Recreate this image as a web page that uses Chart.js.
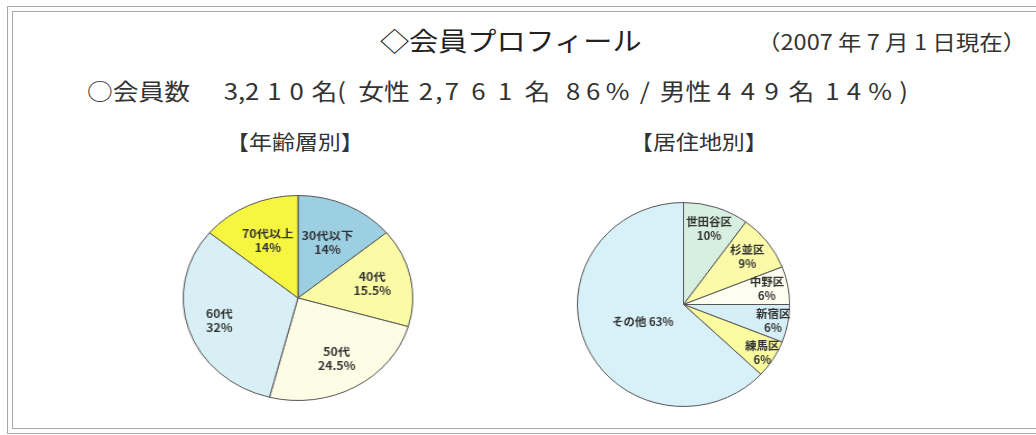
<!DOCTYPE html>
<html lang="ja">
  <head>
    <meta charset="UTF-8" />
    <title>会員プロフィール</title>
    <script src="https://cdn.jsdelivr.net/npm/chart.js@4.4.0/dist/chart.umd.min.js"></script>
    <style>
      html, body { margin: 0; padding: 0; background: #fff; overflow: hidden; }
      body { width: 1036px; height: 435px; position: relative;
             font-family: "Noto Sans CJK JP", sans-serif; color: #222; }
      .frame { position: absolute; border: 1px solid #a8a8a8; }
      /* the source is stretched a little horizontally, so the text is too */
      .txt { position: absolute; white-space: nowrap; line-height: 1;
             transform: scaleX(1.12); transform-origin: 0 0; }
      .pie { position: absolute; }
    </style>
  </head>
  <body>
    <div class="frame" style="left:7px; top:6px; width:1200px; height:426px;"></div>
    <div class="frame" style="left:12px; top:11px; width:1200px; height:416px;"></div>

    <div class="txt" style="left:380px; top:27px; font-size:26px;">◇会員プロフィール</div>
    <div class="txt" style="left:757px; top:31px; font-size:21px; color:#333;">（2007 年 7 月 1 日現在）</div>
    <div class="txt" style="left:87px; top:79px; font-size:23px; color:#333;">○会員数<span style="margin-left:30px">3,</span><span style="letter-spacing:7px">210</span>名<span style="letter-spacing:11px">(</span>女性<span style="margin-left:8px; letter-spacing:2px">2,</span><span style="letter-spacing:11px">761</span>名<span style="margin-left:14px; letter-spacing:5px">86</span><span style="letter-spacing:9px">%/</span>男性<span style="margin-left:5px; letter-spacing:8.5px">449</span>名<span style="margin-left:10px; letter-spacing:6.4px">14%)</span></div>
    <div class="txt" style="left:226px; top:131px; font-size:20.5px; color:#333;">【年齢層別】</div>
    <div class="txt" style="left:630px; top:131px; font-size:20.5px; color:#333;">【居住地別】</div>

    <div class="pie" style="left:195px; top:195px; width:206px; height:206px; transform:scaleX(1.12);">
      <canvas id="ageChart"></canvas>
    </div>
    <div class="pie" style="left:581px; top:202px; width:205px; height:205px; transform:scaleX(1.04);">
      <canvas id="areaChart"></canvas>
    </div>

    <script>
      //data
      const ageLabels = ['30代以下', '40代', '50代', '60代', '70代以上'];
      const ageValues = [14, 15.5, 24.5, 32, 14];
      const ageColors = ['#9ccfe2', '#fbfba6', '#fdfde6', '#d9eff6', '#f6f640'];

      const areaLabels = ['世田谷区', '杉並区', '中野区', '新宿区', '練馬区', 'その他'];
      const areaValues = [10, 9, 6, 6, 6, 63];
      const areaColors = ['#d6efe0', '#fafaa8', '#fefef0', '#d6eff6', '#fafa9e', '#d8f0f8'];

      // slice labels: name + percent, drawn on the arc itself
      const sliceLabels = {
        id: 'sliceLabels',
        afterDatasetsDraw(chart) {
          const ctx = chart.ctx;
          const ds = chart.data.datasets[0];
          const meta = chart.getDatasetMeta(0);
          ctx.save();
          ctx.fillStyle = '#333';
          ctx.font = '600 11px "Noto Sans CJK JP", sans-serif';
          ctx.textAlign = 'center';
          ctx.textBaseline = 'middle';
          meta.data.forEach((arc, i) => {
            const p = arc.getProps(['x', 'y', 'startAngle', 'endAngle', 'outerRadius'], true);
            const mid = (p.startAngle + p.endAngle) / 2;
            const r = p.outerRadius * ds.labelPos[i];
            const x = p.x + Math.cos(mid) * r;
            const y = p.y + Math.sin(mid) * r;
            const label = chart.data.labels[i];
            const pct = ds.data[i] + '%';
            if (ds.oneLine[i]) {
              ctx.fillText(label + ' ' + pct, x, y);
            } else {
              ctx.fillText(label, x, y - 7);
              ctx.fillText(pct, x, y + 7);
            }
          });
          ctx.restore();
        }
      };

      function makePie(id, labels, values, colors, labelPos, oneLine) {
        return new Chart(document.getElementById(id), {
          type: 'pie',
          data: {
            labels: labels,
            datasets: [{
              data: values,
              backgroundColor: colors,
              borderColor: '#555',
              borderWidth: 1,
              labelPos: labelPos,
              oneLine: oneLine
            }]
          },
          options: {
            responsive: true,
            maintainAspectRatio: false,
            animation: false,
            layout: { padding: 0 },
            plugins: { legend: { display: false }, tooltip: { enabled: false } }
          },
          plugins: [sliceLabels]
        });
      }

      //init
      makePie('ageChart', ageLabels, ageValues, ageColors,
        [0.6, 0.66, 0.68, 0.72, 0.62], [false, false, false, false, false]);
      makePie('areaChart', areaLabels, areaValues, areaColors,
        [0.78, 0.76, 0.8, 0.86, 0.88, 0.42], [false, false, false, false, false, true]);
    </script>
  </body>
</html>
